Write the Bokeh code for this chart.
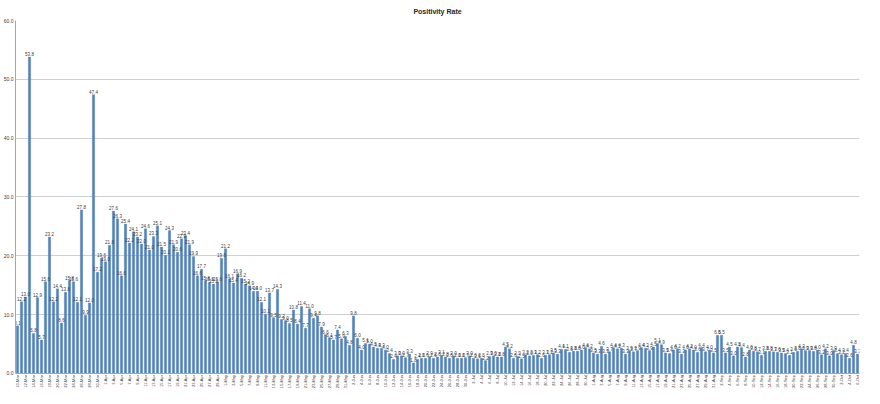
import math
import pandas as pd
from bokeh.plotting import figure
from bokeh.models import ColumnDataSource, FixedTicker, NumeralTickFormatter, Range1d, Span
from bokeh.embed import file_html
from bokeh.resources import INLINE
from bokeh.core.properties import value

# ---- data ----
title_text = "Positivity Rate"
start_date = "2020-03-10"
rates = [
    8.1, 12.2, 13.0, 53.8, 6.8, 12.9, 5.7, 15.6, 23.2, 12.2,
    14.4, 8.6, 13.8, 15.8, 15.6, 12.1, 27.8, 9.9, 12.0, 47.4,
    17.2, 19.6, 19.0, 21.8, 27.6, 26.3, 16.6, 25.4, 22.2, 24.1,
    23.2, 22.0, 24.6, 21.0, 23.3, 25.1, 21.5, 20.1, 24.3, 21.9,
    20.6, 22.9, 23.4, 21.9, 19.9, 16.6, 17.7, 15.8, 15.5, 15.2,
    15.6, 19.6, 21.2, 16.1, 15.4, 16.9, 16.2, 15.2, 14.9, 14.0,
    14.0, 12.1, 10.1, 13.7, 9.5, 14.3, 9.2, 9.0, 8.5, 10.8,
    8.4, 11.4, 7.7, 11.0, 9.4, 9.8, 7.9, 6.6, 6.1, 5.7,
    7.4, 5.9, 6.3, 4.8, 9.8, 6.0, 4.0, 5.1, 5.0, 4.5,
    4.3, 4.3, 4.0, 3.4, 2.4, 3.0, 3.0, 2.7, 3.3, 1.8,
    2.4, 2.6, 2.6, 2.9, 2.6, 2.8, 3.1, 2.8, 2.6, 3.0,
    2.6, 2.6, 2.7, 3.0, 2.6, 2.5, 2.6, 2.2, 2.9, 3.0,
    2.8, 2.8, 4.5, 4.2, 2.6, 2.9, 2.5, 3.2, 3.0, 3.1,
    3.2, 2.6, 3.1, 3.2, 3.5, 3.3, 4.1, 4.1, 3.6, 3.8,
    3.8, 4.0, 4.4, 4.2, 3.5, 3.3, 4.6, 3.3, 3.7, 4.4,
    4.2, 4.3, 3.3, 3.9, 3.7, 3.9, 4.4, 4.3, 3.9, 4.5,
    5.1, 4.9, 3.5, 3.4, 4.0, 4.2, 3.3, 4.0, 4.2, 4.0,
    3.6, 4.4, 3.7, 4.0, 3.5, 6.5, 6.5, 3.5, 4.5, 3.0,
    4.5, 4.4, 2.8, 4.0, 3.8, 3.7, 3.1, 3.8, 3.8, 3.7,
    3.6, 3.5, 3.4, 3.1, 3.6, 3.8, 4.2, 3.9, 3.9, 3.8,
    4.0, 3.2, 4.2, 3.0, 3.9, 3.4, 3.2, 3.4, 2.6, 4.8,
    3.3,
]
y_ticks = [0, 10, 20, 30, 40, 50, 60]

dates = pd.date_range(start_date, periods=len(rates))
date_labels = [f"{d.day}-{d.strftime('%b')}" for d in dates]
xs = list(range(len(rates)))
label_ticks = xs[::2]

src = ColumnDataSource(dict(x=xs, v=rates, lbl=[f"{r:.1f}" for r in rates]))
tick_src = ColumnDataSource(dict(x=label_ticks, y=[y_ticks[0]] * len(label_ticks),
                                 t=[date_labels[i] for i in label_ticks]))

FONT = "Liberation Sans"

# room under the baseline (in data units) for the rotated date labels
label_room = 2.55

p = figure(width=864, height=388, output_backend="svg", toolbar_location=None,
           x_range=Range1d(-0.5, len(rates) - 0.5),
           y_range=Range1d(y_ticks[0] - label_room, y_ticks[-1]),
           title=title_text, min_border_left=0, min_border_right=5,
           min_border_top=0, min_border_bottom=0)
p.title.align = "center"
p.title.text_font = FONT
p.title.text_font_size = "7px"
p.title.text_font_style = "bold"
p.title.text_color = "#262626"
p.title.standoff = 11
p.outline_line_color = None
p.background_fill_color = "white"

p.vbar(x="x", top="v", width=0.58, source=src, fill_color="#4F81BD", line_color="#4A7AB3", line_width=0.3)
p.text(x="x", y="v", text="lbl", source=src, text_font=value(FONT), text_font_size="4.5px",
       text_align="center", text_baseline="bottom", y_offset=-1, text_color="#404040")

# x category labels (every other day), rotated, below the baseline
p.text(x="x", y="y", text="t", source=tick_src, text_font=value(FONT), text_font_size="4px",
       angle=math.pi / 2, text_align="right", text_baseline="middle", y_offset=1.5,
       text_color="#404040")

# y axis
p.yaxis.ticker = FixedTicker(ticks=y_ticks)
p.yaxis.bounds = (y_ticks[0], y_ticks[-1])
p.yaxis.formatter = NumeralTickFormatter(format="0.0")
p.yaxis.major_label_text_font = FONT
p.yaxis.major_label_text_font_size = "5px"
p.yaxis.major_label_text_color = "#404040"
p.yaxis.major_label_standoff = 2
p.yaxis.major_tick_out = 0
p.yaxis.major_tick_in = 0
p.yaxis.minor_tick_out = 0
p.yaxis.minor_tick_in = 0
p.yaxis.axis_line_color = "#A6A6A6"

p.xaxis.visible = False
p.add_layout(Span(location=y_ticks[0], dimension="width", line_color="#A6A6A6", line_width=1))

p.xgrid.grid_line_color = None
p.ygrid.grid_line_color = "#D0D0D0"
p.ygrid.grid_line_width = 1

open("out.html", "w").write(file_html(p, INLINE))
